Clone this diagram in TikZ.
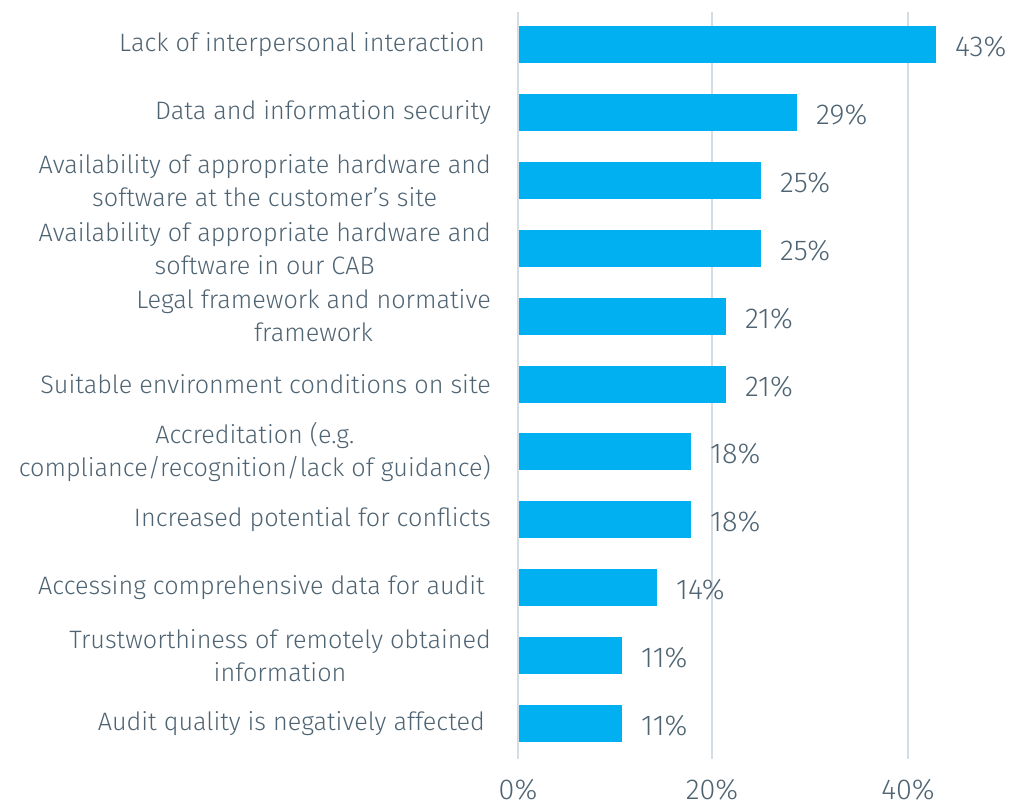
\documentclass[tikz,border=0pt]{standalone}
\usepackage{fontspec}
\setmainfont{Fira Sans}[UprightFont=* Light]
\definecolor{barc}{HTML}{00B0F0}
\definecolor{txt}{HTML}{4F6473}
\definecolor{gridc}{HTML}{D5DDE3}
\newlength{\reflen}
\begin{document}
\settowidth{\reflen}{\fontsize{10pt}{12pt}\selectfont compliance/recognition/lack of guidance)}
\pgfmathsetmacro{\fsz}{10*472/\reflen}
\pgfmathsetmacro{\vsz}{1.14*\fsz}
\begin{tikzpicture}[x=1pt,y=-1pt,
  lbl/.style={anchor=east,align=center,inner sep=0pt,text=txt,
    font=\fontsize{\fsz pt}{33pt}\selectfont},
  val/.style={anchor=base west,inner sep=0pt,text=txt,
    font=\fontsize{\vsz pt}{33pt}\selectfont},
  axl/.style={anchor=base,inner sep=0pt,text=txt,
    font=\fontsize{\vsz pt}{33pt}\selectfont},
  bar/.style={fill=barc,draw=none},
  gridline/.style={draw=gridc,line width=2pt}]
\useasboundingbox (0,0) rectangle (1025,805);
% grid lines
\coordinate (g0t) at (518,12); \coordinate (g0b) at (518,759);
\coordinate (g1t) at (712,12); \coordinate (g1b) at (712,759);
\coordinate (g2t) at (908,12); \coordinate (g2b) at (908,759);
\draw[gridline] (g0t) -- (g0b);
\draw[gridline] (g1t) -- (g1b);
\draw[gridline] (g2t) -- (g2b);
% bars: index / end x / value
\foreach \i/\ex/\v in {0/936/43,1/797/29,2/761/25,3/761/25,4/726/21,5/726/21,6/691/18,7/691/18,8/657/14,9/622/11,10/622/11}{
  \pgfmathsetmacro{\ty}{26+67.9*\i}
  \pgfmathsetmacro{\by}{\ty+18.5+12}
  \fill[bar] (519,\ty) rectangle (\ex,\ty+37);
  \node[val] (v\i) at (\ex+19,\by) {\v\%};
}
\node[lbl] (l0) at (485,44.5) {Lack of interpersonal interaction};
\node[lbl] (l1) at (491,112.4) {Data and information security};
\node[lbl] (l2) at (491,180.3) {Availability of appropriate hardware and\\software at the customer's site};
\node[lbl] (l3) at (491,248.2) {Availability of appropriate hardware and\\software in our CAB};
\node[lbl] (l4) at (491,316.1) {Legal framework and normative\\framework};
\node[lbl] (l5) at (491,384.0) {Suitable environment conditions on site};
\node[lbl] (l6) at (491,451.9) {Accreditation (e.g.\\compliance/recognition/lack of guidance)};
\node[lbl] (l7) at (491,519.8) {Increased potential for conflicts};
\node[lbl] (l8) at (485,587.7) {Accessing comprehensive data for audit};
\node[lbl] (l9) at (491,655.6) {Trustworthiness of remotely obtained\\information};
\node[lbl] (l10) at (485,723.5) {Audit quality is negatively affected};
% axis labels
\node[axl] (a0) at (518,799) {0\%};
\node[axl] (a1) at (712,799) {20\%};
\node[axl] (a2) at (908,799) {40\%};
\end{tikzpicture}
\end{document}
